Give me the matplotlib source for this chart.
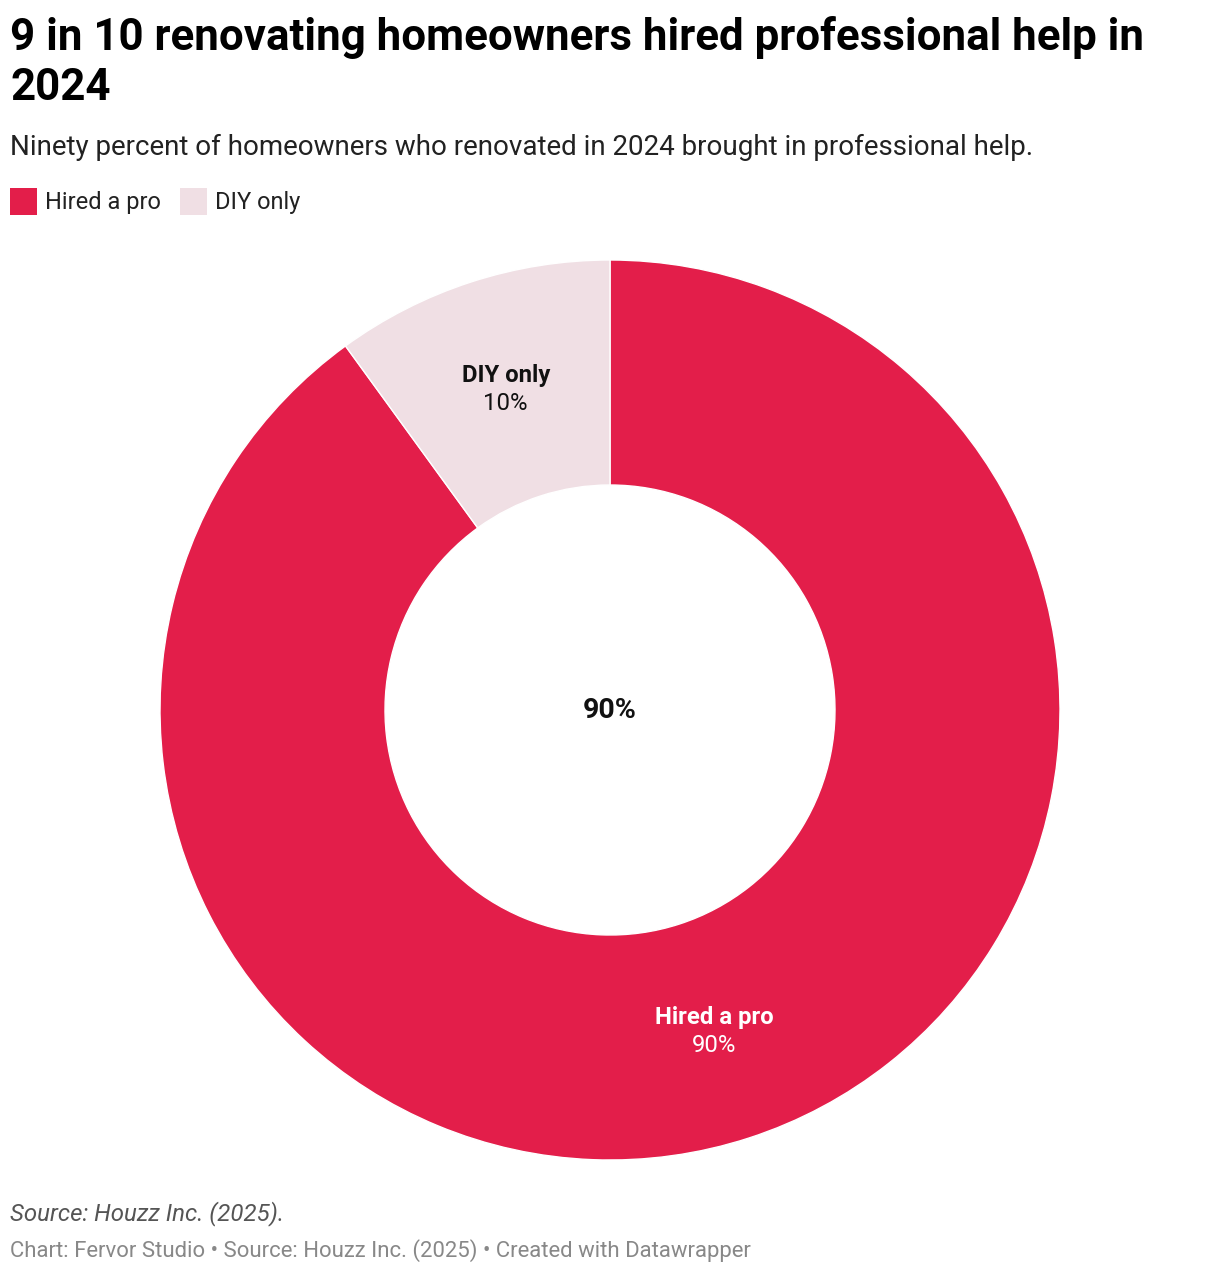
import matplotlib
matplotlib.use("Agg")
import matplotlib.pyplot as plt
import numpy as np

categories = ["Hired a pro", "DIY only"]
values = [90, 10]
colors = ["#E31E4A", "#F0DFE4"]
label_colors = ["white", "#111111"]
center_label = "90%"

title_lines = ["9 in 10 renovating homeowners hired professional help in", "2024"]
subtitle = "Ninety percent of homeowners who renovated in 2024 brought in professional help."
note = "Source: Houzz Inc. (2025)."
footer = "Chart: Fervor Studio \u2022 Source: Houzz Inc. (2025) \u2022 Created with Datawrapper"

W, H = 1220, 1274
fig = plt.figure(figsize=(W / 100, H / 100), dpi=100)
fig.patch.set_facecolor("white")

def fy(px):
    return 1 - px / H

def fx(px):
    return px / W

# Title & subtitle
for i, line in enumerate(title_lines):
    fig.text(fx(10), fy(50 + 50 * i), line, fontsize=31.6, fontweight="bold",
             family="Roboto", color="#000000", va="baseline", ha="left")
fig.text(fx(10), fy(155), subtitle, fontsize=20, family="Roboto",
         color="#222222", va="baseline", ha="left")

# Legend
lx = 10
for cat, col in zip(categories, colors):
    fig.patches.append(plt.Rectangle((fx(lx), fy(215)), 27 / W, 27 / H,
                                     transform=fig.transFigure, facecolor=col,
                                     edgecolor="none"))
    t = fig.text(fx(lx + 35), fy(202), cat, fontsize=17, family="Roboto",
                 color="#222222", va="center", ha="left")
    fig.canvas.draw()
    bb = t.get_window_extent()
    lx = bb.x1 + 19

# Donut
ax = fig.add_axes([fx(160), 1 - 1160 / H, 900 / W, 900 / H])
wedges, _ = ax.pie(values, colors=colors, startangle=90, counterclock=False,
                   radius=1, wedgeprops=dict(width=0.5, edgecolor="white", linewidth=1))
ax.set_xlim(-1, 1)
ax.set_ylim(-1, 1)
ax.set_aspect("equal")
ax.axis("off")

for w, cat, val, lc in zip(wedges, categories, values, label_colors):
    mid = np.deg2rad((w.theta1 + w.theta2) / 2)
    r = 0.75
    x, y = r * np.cos(mid), r * np.sin(mid)
    ax.annotate(cat, (x, y), xytext=(0, 9.5), textcoords="offset points",
                ha="center", va="center", fontsize=17.2, fontweight="bold",
                family="Roboto", color=lc)
    ax.annotate(f"{val}%", (x, y), xytext=(0, -10.5), textcoords="offset points",
                ha="center", va="center", fontsize=17.2, family="Roboto", color=lc)

ax.text(0, 0, center_label, ha="center", va="center", fontsize=20.5,
        fontweight="bold", family="Roboto", color="#111111")

# Footer
fig.text(fx(10), fy(1214), note, fontsize=17.3, family="Roboto", style="italic",
         color="#555555", va="center", ha="left")
fig.text(fx(10), fy(1251), footer, fontsize=15.9, family="Roboto",
         color="#888888", va="center", ha="left")

fig.savefig("out.png", dpi=100, facecolor="white")
